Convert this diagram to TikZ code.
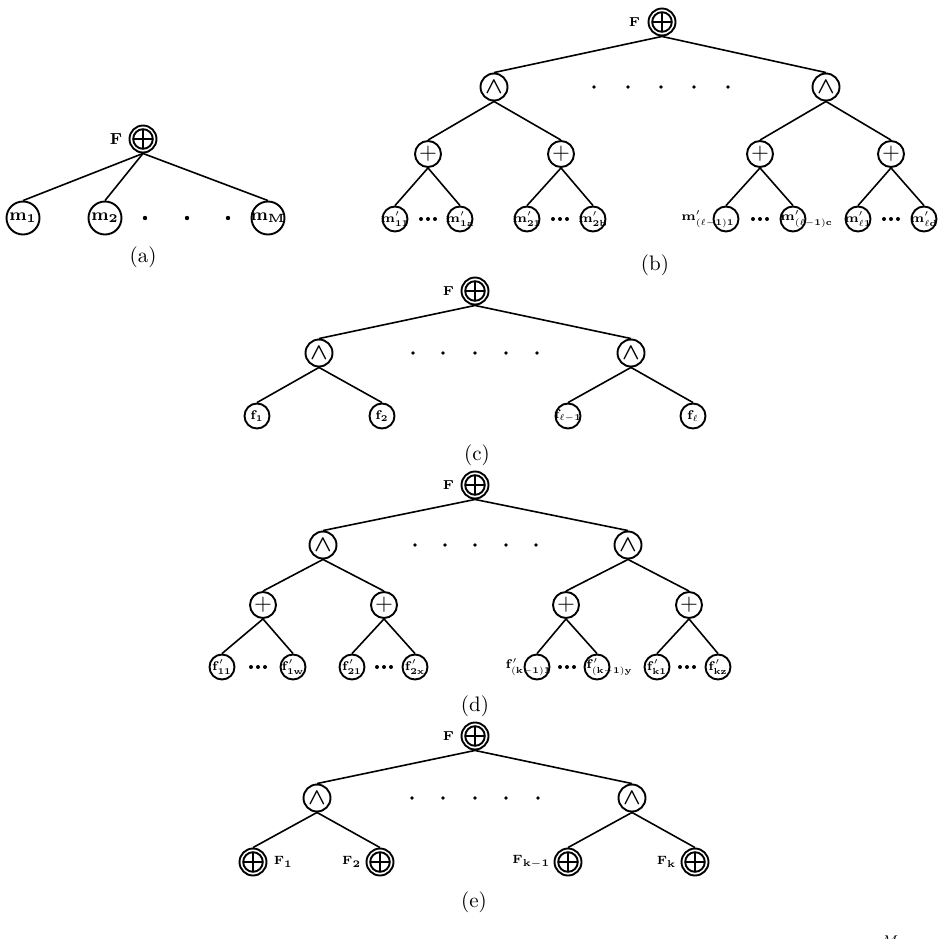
\RequirePackage{fix-cm}
\documentclass[tikz,border=0pt]{standalone}
\usepackage{amsmath}
\usepackage{amssymb}
\usepackage{tikz}
\usetikzlibrary{positioning}

\begin{document}
\begin{tikzpicture}[
	x=0.5pt, y=-0.5pt,
	opnode/.style={
		circle,
		draw,
		line width=0.95pt,
		minimum size=13.5pt,
		inner sep=0pt,
		path picture={\draw[line width=0.95pt] (path picture bounding box.center) circle[radius=4.9pt] +(-4.9pt,0pt) -- +(4.9pt,0pt) +(0pt,-4.9pt) -- +(0pt,4.9pt);},
	},
	andnode/.style={
		circle,
		draw,
		line width=0.95pt,
		minimum size=13.5pt,
		inner sep=0pt,
		font=\fontsize{11.5}{12}\selectfont,
	},
	plusnode/.style={
		circle,
		draw,
		line width=0.95pt,
		minimum size=13pt,
		inner sep=0pt,
		font=\fontsize{11.5}{12}\selectfont,
	},
	leaftext/.style={font=\fontsize{6.3}{7}\selectfont, inner sep=0pt},
	leaf/.style={
		circle,
		draw,
		line width=0.95pt,
		minimum size=12.5pt,
		inner sep=0pt,
		label={[leaftext]center:#1},
	},
	bigleaf/.style={
		circle,
		draw,
		line width=0.95pt,
		minimum size=16.5pt,
		inner sep=0pt,
		label={[leaftext, font=\fontsize{8.5}{9}\selectfont]center:#1},
	},
	flabel/.style={font=\fontsize{6.5}{7}\selectfont, inner sep=0.5pt},
	caption/.style={font=\fontsize{10.5}{12}\selectfont},
	edge/.style={line width=0.8pt},
	]
	\useasboundingbox (0,0) rectangle (948,938);

	% (a)
	\node[opnode] (ra) at (143,139) {};
	\node[flabel, font=\fontsize{8}{9}\selectfont, left=2.5pt of ra] (fa) {$\mathbf{F}$};
	\node[bigleaf={$\mathbf{m_1}$}] (a1) at (23,218) {};
	\node[bigleaf={$\mathbf{m_2}$}] (a2) at (105,218) {};
	\node[bigleaf={$\mathbf{m_M}$}] (a3) at (268,218) {};
	\foreach \x in {145,187,228} \fill (\x,218) circle (2.2);
	\draw[edge] (ra.south) -- (a1.north);
	\draw[edge] (ra.south) -- (a2.north);
	\draw[edge] (ra.south) -- (a3.north);
	\node[caption] (capa) at (143,257) {(a)};

	% (b)
	\node[opnode] (rb) at (662,22) {};
	\node[flabel, left=3pt of rb] (fb) {$\mathbf{F}$};
	\node[andnode] (b1) at (494,87) {$\boldsymbol{\wedge}$};
	\node[andnode] (b2) at (826,87) {$\boldsymbol{\wedge}$};
	\node[plusnode] (b11) at (428,154) {$+$};
	\node[plusnode] (b12) at (561,154) {$+$};
	\node[plusnode] (b21) at (760,154) {$+$};
	\node[plusnode] (b22) at (891,154) {$+$};
	\node[leaf={$\mathbf{m}'_{\mathbf{11}}$}] (m1) at (395,219) {};
	\node[leaf={$\mathbf{m}'_{\mathbf{1a}}$}] (m2) at (460,219) {};
	\node[leaf={$\mathbf{m}'_{\mathbf{21}}$}] (m3) at (527,219) {};
	\node[leaf={$\mathbf{m}'_{\mathbf{2b}}$}] (m4) at (593,219) {};
	\node[leaf={}] (m5) at (726,219) {};
	\node[leaftext, anchor=east] (tm5) at ([xshift=4.5pt]m5.center) {$\mathbf{m}'_{\mathbf{(}\ell\mathbf{-1)1}}$};
	\node[leaf={}] (m6) at (793,219) {};
	\node[leaftext, anchor=west] (tm6) at ([xshift=-6.5pt]m6.center) {$\mathbf{m}'_{\mathbf{(}\ell\mathbf{-1)c}}$};
	\node[leaf={$\mathbf{m}'_{\ell\mathbf{1}}$}] (m7) at (858,219) {};
	\node[leaf={$\mathbf{m}'_{\ell\mathbf{d}}$}] (m8) at (924,219) {};
	\foreach \x in {594,628,661,694,728} \fill (\x,87) circle (1.8);
	\foreach \x in {428,560,760,891} \foreach \d in {-7,0,7} \fill (\x+\d,219) circle (2);
	\draw[edge] (rb.south) -- (b1.north);
	\draw[edge] (rb.south) -- (b2.north);
	\draw[edge] (b1.south) -- (b11.north);
	\draw[edge] (b1.south) -- (b12.north);
	\draw[edge] (b2.south) -- (b21.north);
	\draw[edge] (b2.south) -- (b22.north);
	\draw[edge] (b11.south) -- (m1.north);
	\draw[edge] (b11.south) -- (m2.north);
	\draw[edge] (b12.south) -- (m3.north);
	\draw[edge] (b12.south) -- (m4.north);
	\draw[edge] (b21.south) -- (m5.north);
	\draw[edge] (b21.south) -- (m6.north);
	\draw[edge] (b22.south) -- (m7.north);
	\draw[edge] (b22.south) -- (m8.north);
	\node[caption] (capb) at (655,265) {(b)};

	% (c)
	\node[opnode] (rc) at (475,291) {};
	\node[flabel, left=2.5pt of rc] (fc) {$\mathbf{F}$};
	\node[andnode] (c1) at (319,353) {$\boldsymbol{\wedge}$};
	\node[andnode] (c2) at (631,353) {$\boldsymbol{\wedge}$};
	\node[leaf={$\mathbf{f_1}$}] (f1) at (257,416) {};
	\node[leaf={$\mathbf{f_2}$}] (f2) at (382,416) {};
	\node[leaf={$\mathbf{f}_{\ell\mathbf{-1}}$}] (f3) at (568,416) {};
	\node[leaf={$\mathbf{f}_{\ell}$}] (f4) at (693,416) {};
	\foreach \x in {413,443,475,506,537} \fill (\x,353) circle (1.8);
	\draw[edge] (rc.south) -- (c1.north);
	\draw[edge] (rc.south) -- (c2.north);
	\draw[edge] (c1.south) -- (f1.north);
	\draw[edge] (c1.south) -- (f2.north);
	\draw[edge] (c2.south) -- (f3.north);
	\draw[edge] (c2.south) -- (f4.north);
	\node[caption] (capc) at (477,455) {(c)};

	% (d)
	\node[opnode] (rd) at (475,485) {};
	\node[flabel, left=2.5pt of rd] (fd) {$\mathbf{F}$};
	\node[andnode] (d1) at (323,545) {$\boldsymbol{\wedge}$};
	\node[andnode] (d2) at (628,545) {$\boldsymbol{\wedge}$};
	\node[plusnode] (d11) at (263,605) {$+$};
	\node[plusnode] (d12) at (384,605) {$+$};
	\node[plusnode] (d21) at (566,605) {$+$};
	\node[plusnode] (d22) at (689,605) {$+$};
	\node[leaf={$\mathbf{f}'_{\mathbf{11}}$}] (g1) at (222,667) {};
	\node[leaf={$\mathbf{f}'_{\mathbf{1w}}$}] (g2) at (293,667) {};
	\node[leaf={$\mathbf{f}'_{\mathbf{21}}$}] (g3) at (352,667) {};
	\node[leaf={$\mathbf{f}'_{\mathbf{2x}}$}] (g4) at (415,667) {};
	\node[leaf={}] (g5) at (537,667) {};
	\node[leaftext, anchor=east] (tg5) at ([xshift=7.5pt]g5.center) {$\mathbf{f}'_{\mathbf{(k-1)1}}$};
	\node[leaf={}] (g6) at (597,667) {};
	\node[leaftext, anchor=west] (tg6) at ([xshift=-5.5pt]g6.center) {$\mathbf{f}'_{\mathbf{(k-1)y}}$};
	\node[leaf={$\mathbf{f}'_{\mathbf{k1}}$}] (g7) at (657,667) {};
	\node[leaf={$\mathbf{f}'_{\mathbf{kz}}$}] (g8) at (718,667) {};
	\foreach \x in {415,445,475,506,536} \fill (\x,545) circle (1.8);
	\foreach \x in {258,384,567,687} \foreach \d in {-7,0,7} \fill (\x+\d,667) circle (2);
	\draw[edge] (rd.south) -- (d1.north);
	\draw[edge] (rd.south) -- (d2.north);
	\draw[edge] (d1.south) -- (d11.north);
	\draw[edge] (d1.south) -- (d12.north);
	\draw[edge] (d2.south) -- (d21.north);
	\draw[edge] (d2.south) -- (d22.north);
	\draw[edge] (d11.south) -- (g1.north);
	\draw[edge] (d11.south) -- (g2.north);
	\draw[edge] (d12.south) -- (g3.north);
	\draw[edge] (d12.south) -- (g4.north);
	\draw[edge] (d21.south) -- (g5.north);
	\draw[edge] (d21.south) -- (g6.north);
	\draw[edge] (d22.south) -- (g7.north);
	\draw[edge] (d22.south) -- (g8.north);
	\node[caption] (capd) at (475,706) {(d)};

	% (e)
	\node[opnode] (re) at (475,736) {};
	\node[flabel, left=2.5pt of re] (fe) {$\mathbf{F}$};
	\node[andnode] (e1) at (317,798) {$\boldsymbol{\wedge}$};
	\node[andnode] (e2) at (632,798) {$\boldsymbol{\wedge}$};
	\node[opnode] (h1) at (253,862) {};
	\node[opnode] (h2) at (380,862) {};
	\node[opnode] (h3) at (568,862) {};
	\node[opnode] (h4) at (695,862) {};
	\node[flabel, font=\fontsize{6}{7}\selectfont, right=2.5pt of h1] (th1) {$\mathbf{F_1}$};
	\node[flabel, font=\fontsize{6}{7}\selectfont, left=1.5pt of h2] (th2) {$\mathbf{F_2}$};
	\node[flabel, font=\fontsize{6}{7}\selectfont, left=1pt of h3] (th3) {$\mathbf{F_{k-1}}$};
	\node[flabel, font=\fontsize{6}{7}\selectfont, left=1.5pt of h4] (th4) {$\mathbf{F_k}$};
	\foreach \x in {412,443,475,506,538} \fill (\x,798) circle (1.8);
	\draw[edge] (re.south) -- (e1.north);
	\draw[edge] (re.south) -- (e2.north);
	\draw[edge] (e1.south) -- (h1.north);
	\draw[edge] (e1.south) -- (h2.north);
	\draw[edge] (e2.south) -- (h3.north);
	\draw[edge] (e2.south) -- (h4.north);
	\node[caption] (cape) at (474,902) {(e)};

	\node[font=\fontsize{7}{8}\selectfont] (cut) at (890,941) {$M$};
\end{tikzpicture}
\end{document}
